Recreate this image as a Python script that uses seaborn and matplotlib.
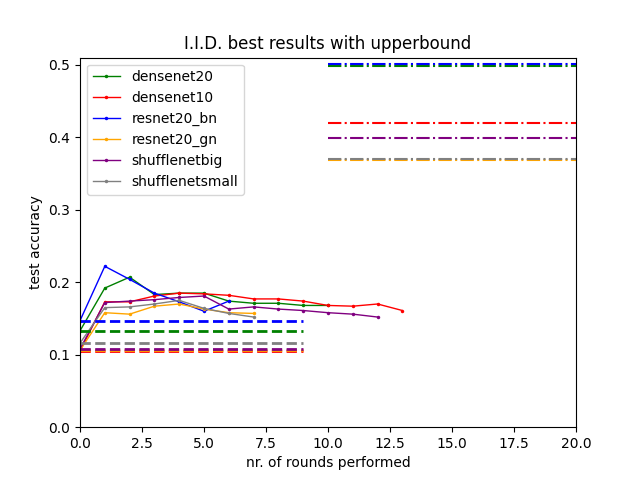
import matplotlib
matplotlib.use("Agg")
import matplotlib.pyplot as plt
import pandas as pd
import seaborn as sns

models = ["densenet20", "densenet10", "resnet20_bn", "resnet20_gn", "shufflenetbig", "shufflenetsmall"]
colors = ["green", "red", "blue", "orange", "purple", "gray"]

densenet20 = [0.133, 0.192, 0.207, 0.183, 0.185, 0.185, 0.174, 0.171, 0.171, 0.168, 0.168]
densenet10 = [0.105, 0.173, 0.173, 0.181, 0.185, 0.184, 0.182, 0.177, 0.177, 0.174, 0.168, 0.167, 0.170, 0.161]
resnet20_bn = [0.147, 0.222, 0.204, 0.185, 0.173, 0.160, 0.174]
resnet20_gn = [0.106, 0.158, 0.156, 0.167, 0.170, 0.163, 0.158, 0.157]
shufflenetbig = [0.108, 0.172, 0.174, 0.176, 0.179, 0.181, 0.163, 0.166, 0.163, 0.161, 0.158, 0.156, 0.152]
shufflenetsmall = [0.116, 0.165, 0.166, 0.170, 0.175, 0.164, 0.157, 0.152]

# lower bound (start accuracy) and upper bound per model
lower = [0.133, 0.105, 0.147, 0.106, 0.108, 0.116]
upper = [0.499, 0.420, 0.501, 0.3685, 0.399, 0.370]

series = [densenet20, densenet10, resnet20_bn, resnet20_gn, shufflenetbig, shufflenetsmall]
rows = []
for name, vals in zip(models, series):
    for i, v in enumerate(vals):
        rows.append({"round": i, "acc": v, "model": name})
df = pd.DataFrame(rows)

fig, ax = plt.subplots(figsize=(6.4, 4.8), dpi=100)
sns.lineplot(data=df, x="round", y="acc", hue="model", hue_order=models,
             palette=dict(zip(models, colors)), marker=".", markersize=5,
             markeredgewidth=0, linewidth=1, ax=ax)

for c, lo in zip(colors, lower):
    ax.hlines(lo, 0, 9, colors=c, linestyles="--", linewidth=2)
for c, up in zip(colors, upper):
    ax.hlines(up, 10, 20, colors=c, linestyles="-.", linewidth=1.5)

ax.set_xlim(0, 20)
ax.set_ylim(0, 0.51)
ax.set_xlabel("nr. of rounds performed")
ax.set_ylabel("test accuracy")
ax.set_title("I.I.D. best results with upperbound")
ax.legend(loc="upper left")
plt.savefig("out.png", dpi=100)
